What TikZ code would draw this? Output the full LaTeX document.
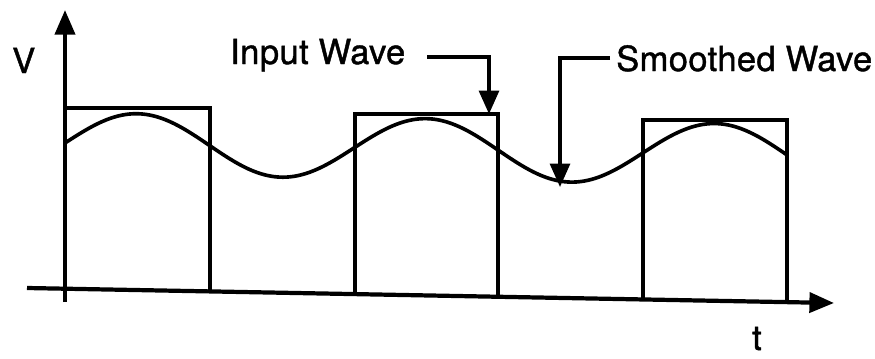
\documentclass[tikz,border=0pt]{standalone}
\usepackage{fontspec}
\setmainfont[FakeBold=1.2, LetterSpace=1]{TeX Gyre Heros}
\usetikzlibrary{arrows.meta}
\begin{document}
\begin{tikzpicture}[x=0.03cm,y=-0.03cm,
  axis/.style={line width=3.6pt, -{Triangle[length=21pt,width=17pt]}},
  pulse/.style={line width=2.9pt, line join=miter},
  smoothwave/.style={line width=3.1pt},
  callout/.style={line width=2.9pt, line join=miter, -{Triangle[length=20pt,width=17pt]}},
  lbl/.style={font=\fontsize{29.5}{32}\selectfont, inner sep=0pt}]
\useasboundingbox (0,0) rectangle (875,358);
% axes
\coordinate (xo) at (27,288);
\coordinate (xe) at (834,303);
\coordinate (yo) at (65,302);
\coordinate (ye) at (65,10);
\draw[axis] (xo) -- (xe);
\draw[axis] (yo) -- (ye);
% input square wave
\draw[pulse] (65,288.7) -- (65,108) -- (210,108) -- (210,291.4);
\draw[pulse] (355,294.1) -- (355,114) -- (498,114) -- (498,296.8);
\draw[pulse] (643,299.4) -- (643,120) -- (787,120) -- (787,302.1);
% smoothed wave
\draw[smoothwave] plot[domain=65:787, samples=160, smooth]
  (\x, {143+0.017*(\x-65) - 30.5*sin(1.24567*(\x-65))});
% labels
\node[lbl, anchor=base west] (V) at (12,73) {V};
\node[lbl, anchor=base] (t) at (757,350) {t};
\node[lbl, anchor=base west] (inlbl) at (230,64) {Input Wave};
\node[lbl, anchor=base west] (smlbl) at (616,71) {Smoothed Wave};
% callouts
\coordinate (inStart) at (427,57);
\coordinate (inTip) at (489,114);
\coordinate (smStart) at (610,58);
\coordinate (smTip) at (560,187);
\draw[callout] (inStart) -| (inTip);
\draw[callout] (smStart) -| (smTip);
\end{tikzpicture}
\end{document}
